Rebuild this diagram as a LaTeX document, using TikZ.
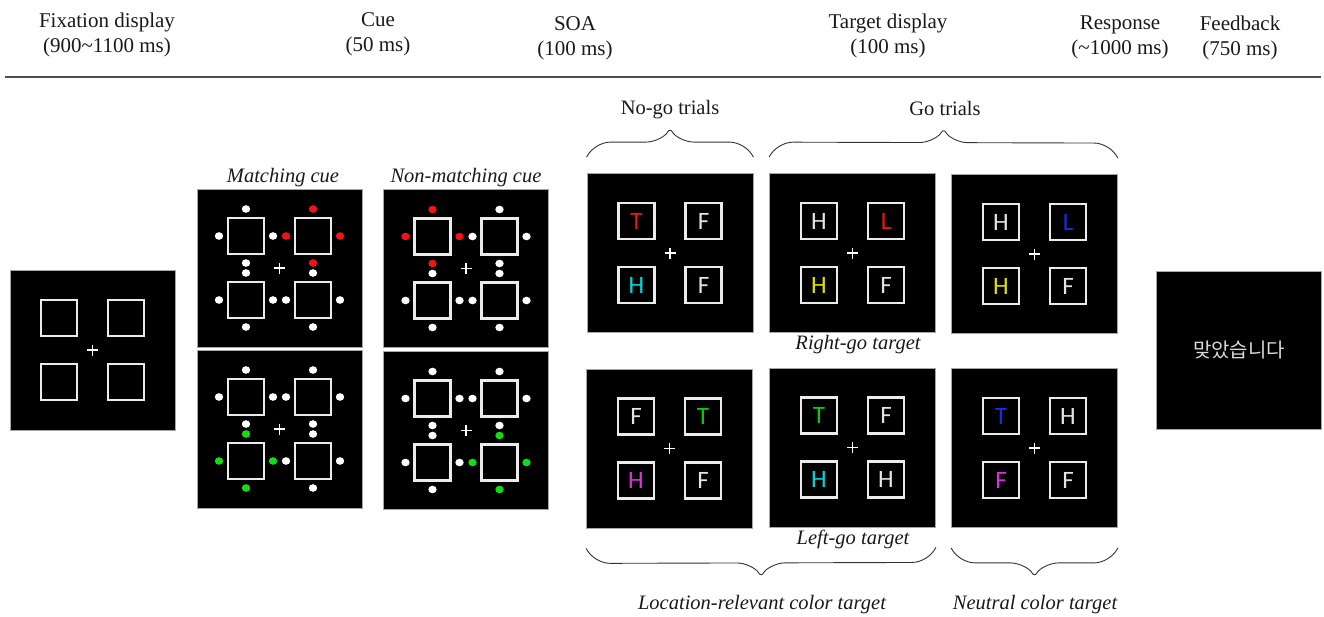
\documentclass[tikz,border=0pt]{standalone}
\usepackage{fontspec}
\setmainfont{Liberation Serif}
\newfontfamily\hangulfont{Noto Sans CJK KR}
\newfontfamily\letterfont{Carlito}
\usetikzlibrary{calc,positioning,decorations.pathreplacing}
\definecolor{cuered}{RGB}{240,20,20}
\definecolor{cuegreen}{RGB}{20,220,20}
\definecolor{tcyan}{RGB}{0,215,215}
\definecolor{tyellow}{RGB}{225,225,0}
\definecolor{tblue}{RGB}{25,45,230}
\definecolor{tmagenta}{RGB}{225,45,225}
\definecolor{tgreen}{RGB}{10,205,10}
\definecolor{lettergray}{RGB}{228,228,228}

\begin{document}
\begin{tikzpicture}
	[x=1pt,y=-1pt,
	screen/.style={fill=black, draw=black!35, line width=0.8pt, minimum width=165pt, minimum height=158pt, inner sep=0pt},
	box/.style={draw=white!92!black, line width=2.4pt, minimum size=36pt, inner sep=0pt, font=\letterfont\fontsize{25}{25}\selectfont, text=lettergray},
	phase/.style={align=center, text=black!90, font=\fontsize{21}{25}\selectfont},
	cond/.style={text=black!90, font=\itshape\fontsize{20.5}{24}\selectfont},
	trial/.style={text=black!90, font=\fontsize{20.5}{24}\selectfont},
	group/.style={decorate, decoration={brace, amplitude=30pt, aspect=0.5}, draw=black!80, line width=0.9pt, rounded corners=6pt},
	fixcross/.style={draw=white, line width=1.6pt},]
	\useasboundingbox (0,0) rectangle (1324,616);

	% phase headers
	\node[phase] (hfix) at (107,34.5) {Fixation display\\(900\textasciitilde1100 ms)};
	\node[phase] (hcue) at (378,34) {Cue\\(50 ms)};
	\node[phase] (hsoa) at (575,38.5) {SOA\\(100 ms)};
	\node[phase] (htarget) at (888,35.5) {Target display\\(100 ms)};
	\node[phase] (hresp) at (1120,37.5) {Response\\(\textasciitilde1000 ms)};
	\node[phase] (hfb) at (1240,37.5) {Feedback\\(750 ms)};
	\coordinate (ruleL) at (5,77);
	\coordinate (ruleR) at (1321,77);
	\draw[black!70, line width=1.8pt] (ruleL) -- (ruleR);

	% fixation display
	\node[screen, minimum height=160pt] (fix) at (92.5,350) {};
	\draw[fixcross] ($(fix)+(-5.5,0)$) -- ++(11,0) ($(fix)+(0,-5.5)$) -- ++(0,11);
	\foreach \sx/\sy/\sq in {-1/-1/tl,1/-1/tr,-1/1/bl,1/1/br}
		\node[box] (fix\sq) at ($(fix)+(\sx*33.5,\sy*32)$) {};

	% cue displays
	\node[cond] (matching) at (283,178) {Matching cue};
	\node[cond] (nonmatching) at (466,178) {Non-matching cue};
	\foreach \pn/\px/\py/\qs/\qc in {cueMT/279.5/268/tr/cuered, cueMB/279.5/429/bl/cuegreen, cueNT/466/268.5/tl/cuered, cueNB/466/430.5/br/cuegreen}{
		\node[screen] (\pn) at (\px,\py) {};
		\draw[fixcross] ($(\pn)+(-5.5,0)$) -- ++(11,0) ($(\pn)+(0,-5.5)$) -- ++(0,11);
		\foreach \sx/\sy/\sq in {-1/-1/tl,1/-1/tr,-1/1/bl,1/1/br}{
			\node[box] (\pn\sq) at ($(\pn)+(\sx*33.5,\sy*32)$) {};
			\edef\thissq{\sq}\edef\cuedsq{\qs}
			\ifx\thissq\cuedsq\edef\dotcol{\qc}\else\edef\dotcol{white}\fi
			\foreach \ox/\oy in {0/-1,-1/0,1/0,0/1}
				\fill[\dotcol] ($(\pn\sq)+(\ox*27,\oy*27)$) ellipse (4.2pt and 3.8pt);
		}
	}

	% target displays
	\foreach \pn/\px/\py/\la/\ca/\lb/\cb/\lc/\cc/\ld/\cd in {
		tA/670/253/T/cuered/F/lettergray/H/tcyan/F/lettergray,
		tB/852.5/253/H/lettergray/L/cuered/H/tyellow/F/lettergray,
		tC/1034.5/254/H/lettergray/L/tblue/H/tyellow/F/lettergray,
		tD/669.5/448.5/F/lettergray/T/tgreen/H/tmagenta/F/lettergray,
		tE/852.5/447.5/T/tgreen/F/lettergray/H/tcyan/H/lettergray,
		tF/1034.5/448/T/tblue/H/lettergray/F/tmagenta/F/lettergray}{
		\node[screen, minimum width=166pt, minimum height=159pt] (\pn) at (\px,\py) {};
		\draw[fixcross] ($(\pn)+(-5.5,0)$) -- ++(11,0) ($(\pn)+(0,-5.5)$) -- ++(0,11);
		\node[box, text=\ca] (\pn tl) at ($(\pn)+(-33.5,-32)$) {\la};
		\node[box, text=\cb] (\pn tr) at ($(\pn)+(33.5,-32)$) {\lb};
		\node[box, text=\cc] (\pn bl) at ($(\pn)+(-33.5,32)$) {\lc};
		\node[box, text=\cd] (\pn br) at ($(\pn)+(33.5,32)$) {\ld};
	}
	\node[cond] (rightgo) at (858,345) {Right-go target};
	\node[cond] (leftgo) at (853,539) {Left-go target};

	% trial groups
	\draw[group] ($(tA.north west)+(0,-16)$) -- ($(tA.north east)+(0,-16)$);
	\draw[group] ($(tB.north west)+(0,-16)$) -- ($(tC.north east)+(0,-16)$);
	\node[trial] (nogo) at (670,110) {No-go trials};
	\node[trial] (go) at (945,108) {Go trials};
	\draw[group] ($(tE.south east)+(0,20)$) -- ($(tD.south west)+(0,20)$);
	\draw[group] ($(tF.south east)+(0,20)$) -- ($(tF.south west)+(0,20)$);
	\node[cond] (locrel) at (762,605) {Location-relevant color target};
	\node[cond] (neutral) at (1035,605) {Neutral color target};

	% feedback display
	\node[screen] (fb) at (1239,350) {};
	\node[text=white!85!black, font=\hangulfont\fontsize{20}{20}\selectfont] (fbtext) at (fb) {맞았습니다};
\end{tikzpicture}
\end{document}
